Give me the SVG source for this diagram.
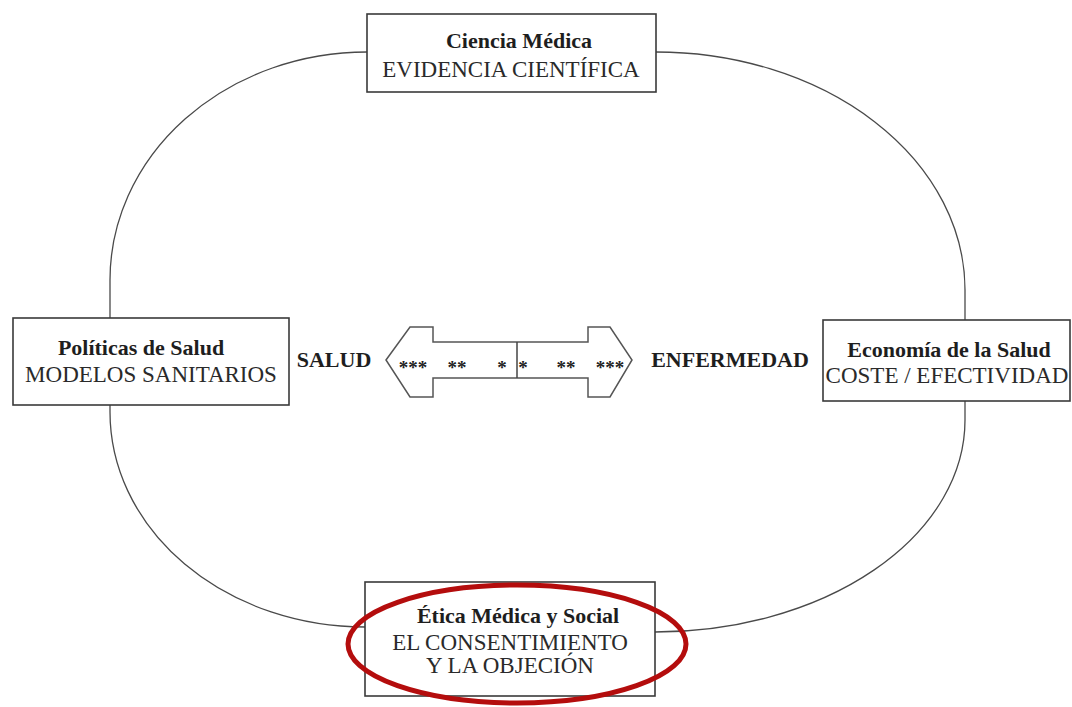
<svg xmlns="http://www.w3.org/2000/svg" width="1072" height="707" viewBox="0 0 1072 707">
<style>
.box{fill:#fff;stroke:#3a3a3a;stroke-width:1.6}
.b{font-family:"Liberation Serif",serif;font-weight:bold;font-size:22px;fill:#1e1e1e;text-anchor:middle}
.r{font-family:"Liberation Serif",serif;font-size:23px;fill:#2a2a2a;text-anchor:middle}
.st{font-family:"Liberation Serif",serif;font-weight:bold;font-size:19px;fill:#222;text-anchor:middle}
</style>
<rect width="1072" height="707" fill="#fff"/>
<g id="connectors" fill="none" stroke="#4a4a4a" stroke-width="1.3">
<path d="M367,52 A257,228 0 0 0 110,280 L110,412 A255,215 0 0 0 365,627 M655,632 A310,212 0 0 0 965,420 L965,290 A309,238 0 0 0 656,52"/>
</g>
<g id="node-ciencia">
<rect class="box" x="367" y="14" width="289" height="78"/>
<text class="b" x="519" y="48">Ciencia Médica</text>
<text class="r" x="511" y="77">EVIDENCIA CIENTÍFICA</text>
</g>
<g id="node-politicas">
<rect class="box" x="13" y="318" width="276" height="87"/>
<text class="b" x="141" y="355">Políticas de Salud</text>
<text class="r" x="151" y="382">MODELOS SANITARIOS</text>
</g>
<g id="node-economia">
<rect class="box" x="823" y="320" width="247" height="81"/>
<text class="b" x="949" y="357">Economía de la Salud</text>
<text class="r" x="947" y="383">COSTE / EFECTIVIDAD</text>
</g>
<g id="node-etica">
<rect class="box" x="365" y="582" width="290" height="114"/>
<text class="b" x="518" y="623">Ética Médica y Social</text>
<text class="r" x="510" y="650">EL CONSENTIMIENTO</text>
<text class="r" x="510" y="673">Y LA OBJECIÓN</text>
</g>
<g id="node-escala">
<polygon points="386,360 410,327 433,327 433,342 588,342 588,327 610,327 632,360 610,397 588,397 588,378 433,378 433,397 410,397" fill="#fff" stroke="#555" stroke-width="1.5"/>
<line x1="517" y1="342" x2="517" y2="378" stroke="#444" stroke-width="1.5"/>
<text class="st" x="413" y="374">***</text>
<text class="st" x="457" y="374">**</text>
<text class="st" x="502" y="374">*</text>
<text class="st" x="523" y="374">*</text>
<text class="st" x="566" y="374">**</text>
<text class="st" x="610" y="374">***</text>
</g>
<text class="b" x="334" y="367">SALUD</text>
<text class="b" x="730" y="367">ENFERMEDAD</text>
<ellipse id="highlight" cx="517" cy="644" rx="169" ry="59" fill="none" stroke="#b40d0d" stroke-width="5"/>
</svg>
